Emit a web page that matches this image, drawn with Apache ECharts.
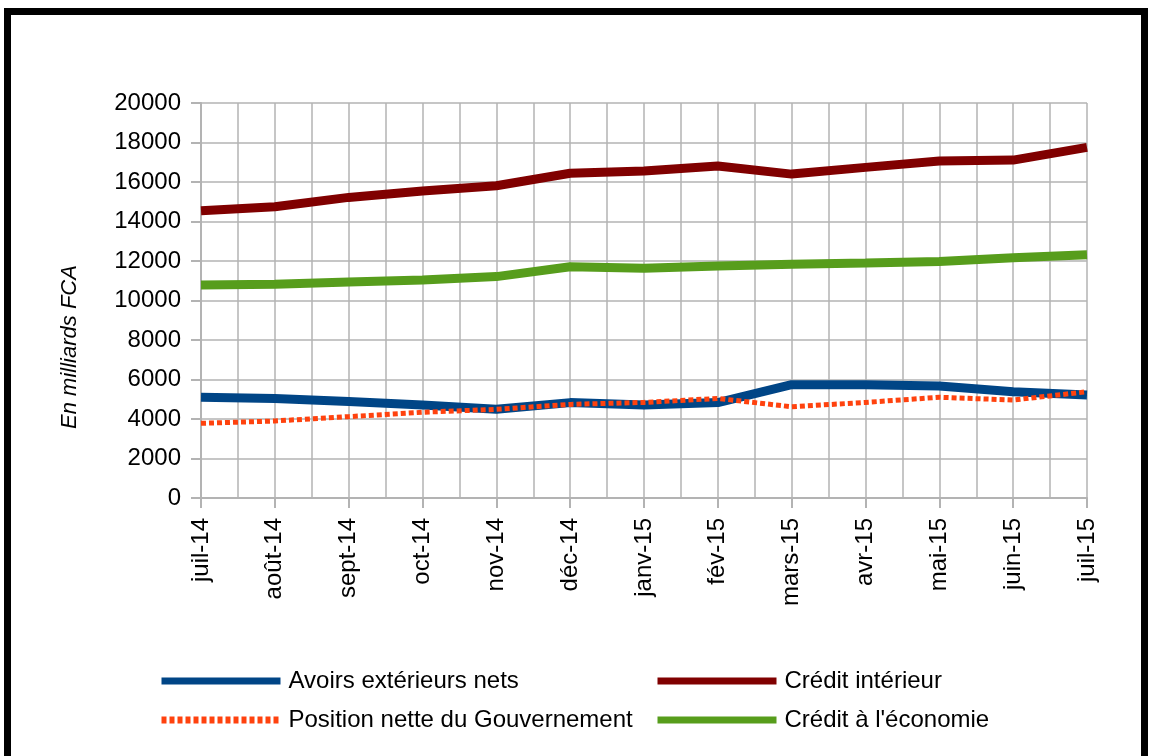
<!DOCTYPE html>
<html><head><meta charset="utf-8">
<script src="https://cdn.jsdelivr.net/npm/echarts@6/dist/echarts.min.js"></script>
<style>html,body{margin:0;padding:0;background:#fff}#c{width:1151px;height:756px}</style>
</head><body><div id="c"></div>
<script>
const categories = ['juil-14','août-14','sept-14','oct-14','nov-14','déc-14','janv-15','fév-15','mars-15','avr-15','mai-15','juin-15','juil-15'];
const avoirs = [5100,5040,4880,4710,4490,4830,4710,4830,5740,5740,5670,5380,5220];
const position = [3780,3900,4120,4340,4490,4740,4840,5040,4620,4840,5100,4960,5380];
const creditInt = [14540,14750,15220,15540,15810,16440,16560,16810,16400,16740,17060,17110,17750];
const creditEco = [10780,10820,10940,11040,11210,11710,11630,11750,11830,11900,11980,12160,12320];
const yTicks = {min:0, max:20000, interval:2000};
const axisTitle = 'En milliards FCA';

const font = 'Liberation Sans';
const chart = echarts.init(document.getElementById('c'), null, {renderer:'canvas'});
const grid = {left:201, right:64, top:103, bottom:258};
const legendCommon = {
  orient:'vertical', top:669, itemWidth:119, itemHeight:24, itemGap:15, padding:0,
  textStyle:{fontSize:24, color:'#000', fontFamily:font, padding:[0,0,0,3]},
  lineStyle:{width:7},
  itemStyle:{color:'rgba(0,0,0,0)', borderWidth:0, opacity:0}
};
chart.setOption({
  animation:false,
  backgroundColor:'#fff',
  textStyle:{fontFamily:font},
  grid: grid,
  xAxis:[{
    type:'category', data:categories, boundaryGap:false,
    axisLine:{lineStyle:{color:'#b3b3b3', width:2}},
    axisTick:{show:true, length:10, inside:false, alignWithLabel:true, lineStyle:{color:'#b3b3b3', width:2}},
    axisLabel:{rotate:90, margin:20, fontSize:24, color:'#000', fontFamily:font},
    splitLine:{show:false}
  },{
    type:'value', min:0, max:categories.length-1, interval:0.5,
    show:true, position:'bottom',
    axisLine:{show:false}, axisTick:{show:false}, axisLabel:{show:false},
    splitLine:{show:true, lineStyle:{color:'#b3b3b3', width:1.5}}
  }],
  yAxis:{
    type:'value', min:yTicks.min, max:yTicks.max, interval:yTicks.interval,
    axisLine:{show:true, lineStyle:{color:'#b3b3b3', width:2}},
    axisTick:{show:true, length:10, lineStyle:{color:'#b3b3b3', width:2}},
    axisLabel:{margin:20, fontSize:24, color:'#000', fontFamily:font, formatter:v => String(v)},
    splitLine:{show:true, lineStyle:{color:'#b3b3b3', width:1.5}}
  },
  legend:[
    Object.assign({left:158, data:['Avoirs extérieurs nets','Position nette du Gouvernement']}, legendCommon),
    Object.assign({left:654, data:['Crédit intérieur',"Crédit à l'économie"]}, legendCommon)
  ],
  graphic:[
    {type:'rect', shape:{x:7.5, y:11.5, width:1137, height:800}, style:{fill:null, stroke:'#000', lineWidth:7}, z:100},
    {type:'text', x:70, y:347, rotation:Math.PI/2, style:{text:axisTitle, font:'italic 22px "Liberation Sans"', fill:'#000', textAlign:'center', textVerticalAlign:'middle'}}
  ],
  series:[
    {name:"Crédit à l'économie", type:'line', data:creditEco, symbol:'none', lineStyle:{color:'#579d1c', width:9}, itemStyle:{color:'#579d1c'}},
    {name:'Crédit intérieur', type:'line', data:creditInt, symbol:'none', lineStyle:{color:'#800000', width:9}, itemStyle:{color:'#800000'}},
    {name:'Avoirs extérieurs nets', type:'line', data:avoirs, symbol:'none', lineStyle:{color:'#004586', width:9}, itemStyle:{color:'#004586'}},
    {name:'Position nette du Gouvernement', type:'line', data:position, symbol:'none', lineStyle:{color:'#ff420e', width:5, type:[5,3]}, itemStyle:{color:'#ff420e'}}
  ]
});
</script></body></html>
